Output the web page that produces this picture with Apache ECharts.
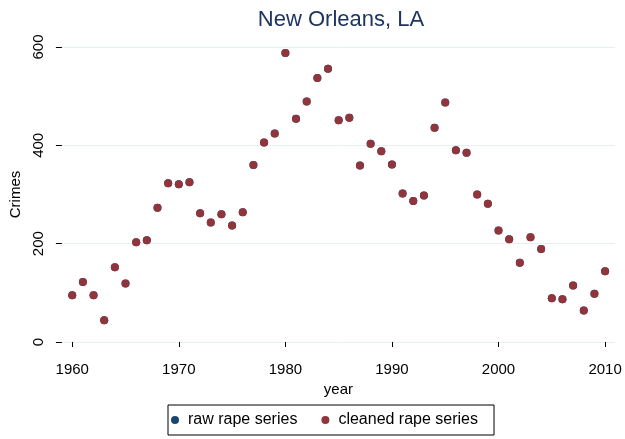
<!DOCTYPE html>
<html><head><meta charset="utf-8">
<script src="https://cdn.jsdelivr.net/npm/echarts@6/dist/echarts.min.js"></script>
<style>html,body{margin:0;padding:0;background:#fff}#c{width:625px;height:439px}</style>
</head><body><div id="c"></div>
<script>
const years = [1960,1961,1962,1963,1964,1965,1966,1967,1968,1969,1970,1971,1972,1973,1974,1975,1976,1977,1978,1979,1980,1981,1982,1983,1984,1985,1986,1987,1988,1989,1990,1991,1992,1993,1994,1995,1996,1997,1998,1999,2000,2001,2002,2003,2004,2005,2006,2007,2008,2009,2010];
const rawRape = [95,122,95,44,152,119,203,207,273,323,321,325,262,243,260,237,264,360,406,424,588,454,489,537,556,451,456,359,403,388,361,302,287,298,436,487,390,385,300,281,227,209,161,213,189,89,87,115,64,98,144];
const cleanedRape = [95,122,95,44,152,119,203,207,273,323,321,325,262,243,260,237,264,360,406,424,588,454,489,537,556,451,456,359,403,388,361,302,287,298,436,487,390,385,300,281,227,209,161,213,189,89,87,115,64,98,144];
const xTicks = [1960,1970,1980,1990,2000,2010];
const yTicks = [0,200,400,600];

const font = 'Liberation Sans, Arial, sans-serif';
const chart = echarts.init(document.getElementById('c'));
chart.setOption({
  backgroundColor: '#ffffff',
  animation: false,
  title: {text: 'New Orleans, LA', left: 336, top: 4, textAlign: 'center',
    textStyle: {fontFamily: font, fontSize: 22, fontWeight: 'normal', color: '#1e3560'}},
  grid: {left: 55, right: 10, top: 47, bottom: 97},
  xAxis: {type: 'value', min: 1959.03, max: 2010.93, offset: 10,
    name: 'year', nameLocation: 'middle', nameGap: 25,
    nameTextStyle: {fontFamily: font, fontSize: 15, color: '#000'},
    axisLine: {show: false},
    axisTick: {show: true, length: 5, customValues: xTicks, lineStyle: {color: '#000'}},
    axisLabel: {customValues: xTicks, formatter: v => String(v), fontFamily: font, fontSize: 15, color: '#000', margin: 10},
    splitLine: {show: false}},
  yAxis: {type: 'value', min: 0, max: 600, interval: 200,
    name: 'Crimes', nameLocation: 'middle', nameGap: 33,
    nameTextStyle: {fontFamily: font, fontSize: 15, color: '#000'},
    axisLine: {show: false},
    axisTick: {show: true, length: 6, lineStyle: {color: '#000'}},
    axisLabel: {rotate: 90, fontFamily: font, fontSize: 15, color: '#000', margin: 16},
    splitLine: {show: true, lineStyle: {color: '#e6eef2', width: 1}}},
  legend: {top: 405, left: 168, itemWidth: 16, itemHeight: 8, itemGap: 24,
    borderColor: '#000', borderWidth: 1, padding: [7, 16, 7, 3], borderRadius: 0,
    textStyle: {fontFamily: font, fontSize: 16, color: '#000'},
    data: [{name: 'raw rape series', icon: 'circle'}, {name: 'cleaned rape series', icon: 'circle'}]},
  series: [
    {name: 'raw rape series', type: 'scatter', symbolSize: 8, itemStyle: {color: '#1a476f', opacity: 1},
      data: years.map((y, i) => [y, rawRape[i]])},
    {name: 'cleaned rape series', type: 'scatter', symbolSize: 8, itemStyle: {color: '#90353b', opacity: 1},
      data: years.map((y, i) => [y, cleanedRape[i]])}
  ]
});
</script></body></html>
